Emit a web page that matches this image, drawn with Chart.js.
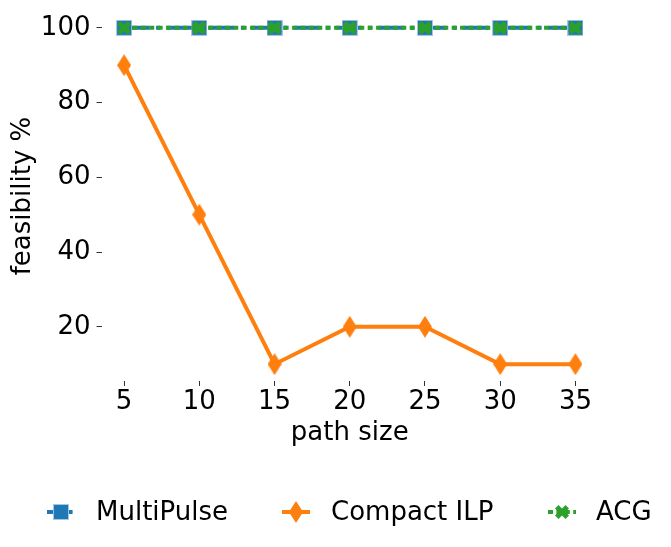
<!DOCTYPE html>
<html>
<head>
<meta charset="utf-8">
<script src="https://cdn.jsdelivr.net/npm/chart.js@4/dist/chart.umd.min.js"></script>
<style>
  html, body { margin: 0; padding: 0; background: #fff; }
  #wrap { width: 671px; height: 547px; }
</style>
</head>
<body>
<div id="wrap"><canvas id="grafiks" width="671" height="547"></canvas></div>
<script>
// dati no attēla
const pathSizes = [5, 10, 15, 20, 25, 30, 35];
const multiPulse = [100, 100, 100, 100, 100, 100, 100];
const compactIlp = [90, 50, 10, 20, 20, 10, 10];
const acg = [100, 100, 100, 100, 100, 100, 100];
const xTicks = [5, 10, 15, 20, 25, 30, 35];
const yTicks = [20, 40, 60, 80, 100];
const seriesNames = ["MultiPulse", "Compact ILP", "ACG"];

const BLUE = "#1f77b4", ORANGE = "#ff7f0e", GREEN = "#2ca02c";
const FONT = "'DejaVu Sans', sans-serif";
const DASH_DOT = [25.6, 6.4, 4, 6.4];
const DOTTED = [5, 3.4];

// marķieru attēli
function markerCanvas(w, h, draw) {
    const c = document.createElement("canvas");
    c.width = w; c.height = h;
    draw(c.getContext("2d"), w, h);
    return c;
}

const squareMarker = markerCanvas(16, 16, (ctx, w, h) => {
    ctx.fillStyle = BLUE;
    ctx.fillRect(0.5, 0.5, w - 1, h - 1);
    ctx.strokeStyle = "rgba(174,199,232,0.9)";
    ctx.lineWidth = 1;
    ctx.strokeRect(0.5, 0.5, w - 1, h - 1);
});

const diamondMarker = markerCanvas(14, 22, (ctx, w, h) => {
    ctx.fillStyle = ORANGE;
    ctx.beginPath();
    ctx.moveTo(w / 2, 0);
    ctx.lineTo(w, h / 2);
    ctx.lineTo(w / 2, h);
    ctx.lineTo(0, h / 2);
    ctx.closePath();
    ctx.fill();
});

const xMarker = markerCanvas(14, 14, (ctx, w, h) => {
    const pts = [[-0.25,-0.5],[0,-0.25],[0.25,-0.5],[0.5,-0.25],[0.25,0],[0.5,0.25],
                 [0.25,0.5],[0,0.25],[-0.25,0.5],[-0.5,0.25],[-0.25,0],[-0.5,-0.25]];
    ctx.fillStyle = GREEN;
    ctx.beginPath();
    pts.forEach((p, i) => {
        const x = w / 2 + p[0] * w, y = h / 2 + p[1] * h;
        if (i === 0) ctx.moveTo(x, y); else ctx.lineTo(x, y);
    });
    ctx.closePath();
    ctx.fill();
});

function toPoints(values) {
    return pathSizes.map((x, i) => ({ x: x, y: values[i] }));
}

// leģenda apakšā
const legendItems = [
    { name: seriesNames[0], color: BLUE, dash: DASH_DOT, marker: squareMarker, cx: 61, tx: 96 },
    { name: seriesNames[1], color: ORANGE, dash: [], marker: diamondMarker, cx: 296, tx: 331 },
    { name: seriesNames[2], color: GREEN, dash: DOTTED, marker: xMarker, cx: 562, tx: 596 }
];

const bottomLegend = {
    id: "bottomLegend",
    afterDraw(chart) {
        const ctx = chart.ctx;
        const y = 512;
        ctx.save();
        legendItems.forEach(it => {
            ctx.strokeStyle = it.color;
            ctx.lineWidth = 4;
            ctx.setLineDash(it.dash);
            ctx.beginPath();
            ctx.moveTo(it.cx - 14, y);
            ctx.lineTo(it.cx + 14, y);
            ctx.stroke();
            ctx.setLineDash([]);
            ctx.drawImage(it.marker, it.cx - it.marker.width / 2, y - it.marker.height / 2);
            ctx.fillStyle = "#000";
            ctx.font = "26px " + FONT;
            ctx.textBaseline = "middle";
            ctx.textAlign = "left";
            ctx.fillText(it.name, it.tx, y + 1);
        });
        ctx.restore();
    }
};

const konteksts = document.getElementById("grafiks").getContext("2d");

new Chart(konteksts, {
    type: "line",
    data: {
        datasets: [
            {
                label: seriesNames[0],
                data: toPoints(multiPulse),
                borderColor: BLUE,
                borderWidth: 4,
                borderDash: DASH_DOT,
                pointStyle: squareMarker,
                order: 3
            },
            {
                label: seriesNames[1],
                data: toPoints(compactIlp),
                borderColor: ORANGE,
                borderWidth: 4,
                pointStyle: diamondMarker,
                order: 2
            },
            {
                label: seriesNames[2],
                data: toPoints(acg),
                borderColor: GREEN,
                borderWidth: 4,
                borderDash: DOTTED,
                pointStyle: xMarker,
                order: 1
            }
        ]
    },
    plugins: [bottomLegend],
    options: {
        responsive: false,
        animation: false,
        layout: { padding: { left: 0, right: 73, top: 11, bottom: 86 } },
        plugins: {
            legend: { display: false },
            tooltip: { enabled: false }
        },
        elements: { line: { tension: 0, fill: false } },
        scales: {
            x: {
                type: "linear",
                min: 3.5,
                max: 36.5,
                afterBuildTicks: s => { s.ticks = xTicks.map(v => ({ value: v })); },
                afterFit: s => { s.height = 80; s.paddingLeft = 0; s.paddingRight = 0; },
                border: { display: false },
                grid: { drawOnChartArea: false, drawTicks: true, tickLength: 5, tickColor: "#333", lineWidth: 1 },
                ticks: { color: "#000", font: { family: FONT, size: 26 }, padding: 1, maxRotation: 0 },
                title: { display: true, text: "path size", color: "#000", font: { family: FONT, size: 26 }, padding: { top: 0, bottom: 12 } }
            },
            y: {
                type: "linear",
                min: 5.5,
                max: 104.5,
                afterBuildTicks: s => { s.ticks = yTicks.map(v => ({ value: v })); },
                afterFit: s => { s.width = 101.5; s.paddingTop = 0; s.paddingBottom = 0; },
                border: { display: false },
                grid: { drawOnChartArea: false, drawTicks: true, tickLength: 5, tickColor: "#333", lineWidth: 1 },
                ticks: { color: "#000", font: { family: FONT, size: 26 }, padding: 6 },
                title: { display: true, text: "feasibility %", color: "#000", font: { family: FONT, size: 26 }, padding: { top: 8, bottom: 0 } }
            }
        }
    }
});
</script>
</body>
</html>
